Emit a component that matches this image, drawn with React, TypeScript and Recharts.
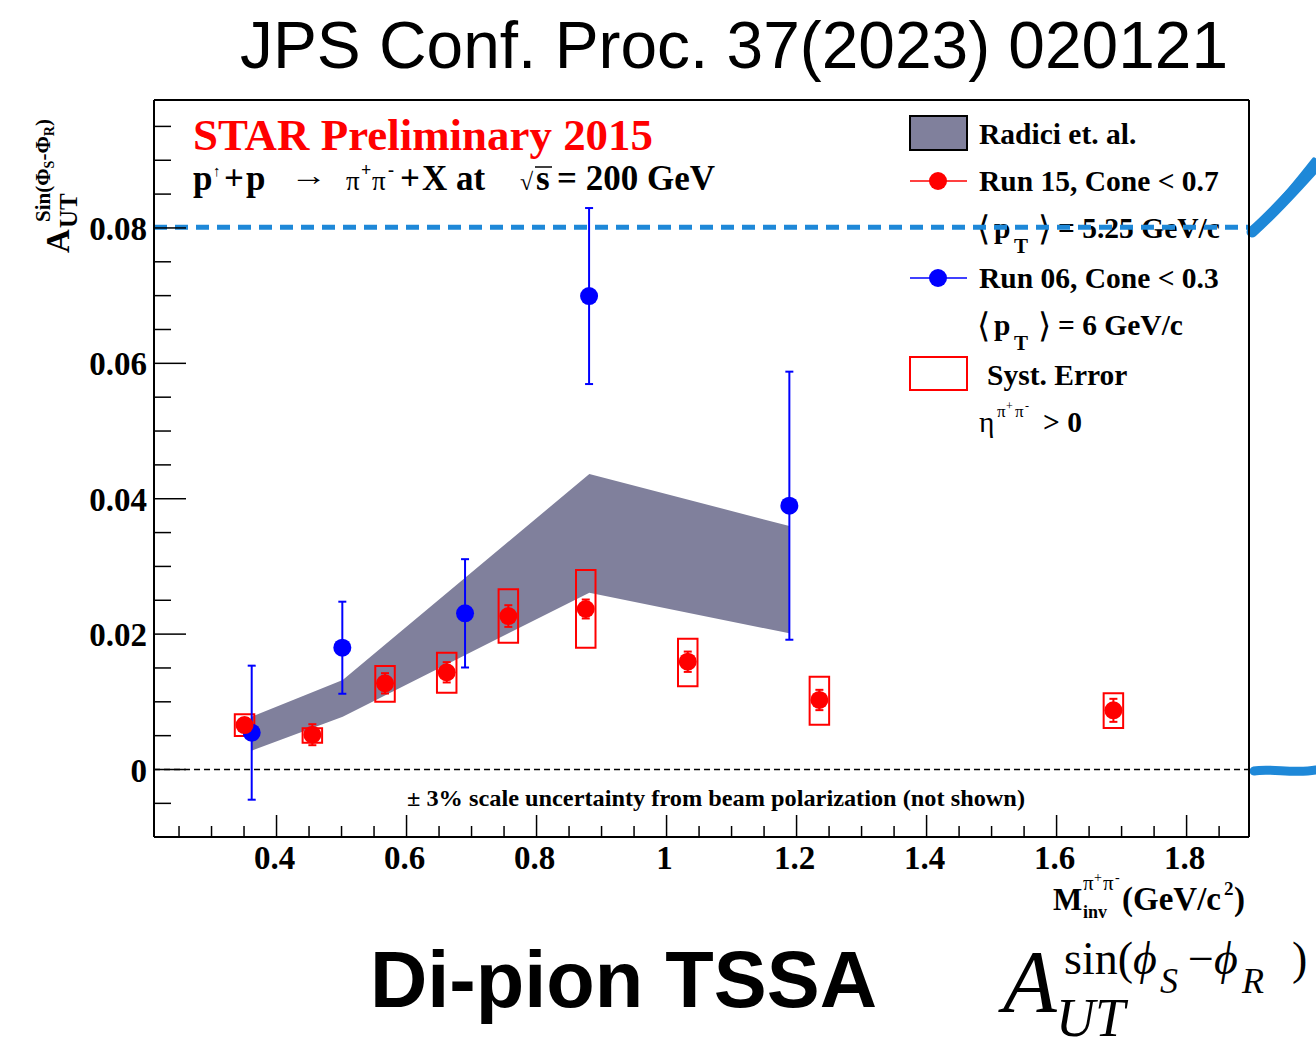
import React from 'react';
import {
  ComposedChart,
  Area,
  Scatter,
  XAxis,
  YAxis,
  ErrorBar,
  ReferenceLine,
  ReferenceArea,
} from 'recharts';

// ---- Radici et al. theory band ----
const bandMass = [0.3618, 0.5018, 0.8812, 1.1889];
const bandLow = [0.00278, 0.0078, 0.02612, 0.02012];
const bandHigh = [0.0078, 0.01322, 0.04365, 0.03597];

// ---- Run 15, Cone < 0.7 ----
const run15Mass = [0.3508, 0.4551, 0.5669, 0.6618, 0.7566, 0.8757, 1.0326, 1.2351, 1.6874];
const run15Asym = [0.00657, 0.00514, 0.01273, 0.01436, 0.02267, 0.02371, 0.01592, 0.01027, 0.00874];
const run15Stat = [0.001, 0.00155, 0.0015, 0.0015, 0.0016, 0.0014, 0.0015, 0.0015, 0.0017];
const run15SysLow = [0.00495, 0.00396, 0.01001, 0.01134, 0.01873, 0.01799, 0.01229, 0.00662, 0.00613];
const run15SysHigh = [0.00815, 0.00609, 0.01529, 0.01725, 0.02662, 0.02947, 0.01932, 0.01371, 0.01126];
const sysHalfWidth = 0.015;

// ---- Run 06, Cone < 0.3 ----
const run06Mass = [0.3618, 0.5012, 0.69, 0.8808, 1.1889];
const run06Asym = [0.00544, 0.01799, 0.02307, 0.06994, 0.03897];
const run06Err = [0.0099, 0.0068, 0.008, 0.013, 0.0198];

// ---- axes ----
const xDomain = [0.2115, 1.896];
const yDomain = [-0.00997, 0.0989];
const xTicks = [0.25, 0.3, 0.35, 0.4, 0.45, 0.5, 0.55, 0.6, 0.65, 0.7, 0.75, 0.8, 0.85, 0.9, 0.95, 1.0, 1.05, 1.1, 1.15, 1.2, 1.25, 1.3, 1.35, 1.4, 1.45, 1.5, 1.55, 1.6, 1.65, 1.7, 1.75, 1.8, 1.85];
const xMajorTicks = [0.4, 0.6, 0.8, 1.0, 1.2, 1.4, 1.6, 1.8];
const xMajorLabels = ['0.4', '0.6', '0.8', '1', '1.2', '1.4', '1.6', '1.8'];
const yTicks = [-0.005, 0, 0.005, 0.01, 0.015, 0.02, 0.025, 0.03, 0.035, 0.04, 0.045, 0.05, 0.055, 0.06, 0.065, 0.07, 0.075, 0.08, 0.085, 0.09, 0.095];
const yMajorTicks = [0, 0.02, 0.04, 0.06, 0.08];
const yMajorLabels = ['0', '0.02', '0.04', '0.06', '0.08'];

const bandData = bandMass.map((x, i) => ({ x, band: [bandLow[i], bandHigh[i]] }));
const run15Data = run15Mass.map((x, i) => ({ x, y: run15Asym[i], err: run15Stat[i] }));
const run06Data = run06Mass.map((x, i) => ({ x, y: run06Asym[i], err: run06Err[i] }));

const SERIF = "'Liberation Serif', 'Times New Roman', serif";
const SANS = "'Liberation Sans', Arial, sans-serif";
const RED = '#ff0000';
const BLUE = '#0000ff';
const BAND = '#80809c';
const ANNO = '#1e88d8';
const W = 1316;
const H = 1047;

const findIdx = (arr: number[], v: number) => arr.findIndex((a) => Math.abs(a - v) < 1e-6);

const XTick = (props: any) => {
  const { x, y, payload } = props;
  const idx = findIdx(xMajorTicks, payload.value);
  const major = idx >= 0;
  return (
    <g>
      <line x1={x} x2={x} y1={y} y2={y - (major ? 22 : 11)} stroke="#000" strokeWidth={1.5} />
      {major && (
        <text x={x - 2} y={y + 32} textAnchor="middle" fontFamily={SERIF} fontWeight="bold" fontSize={33} fill="#000">
          {xMajorLabels[idx]}
        </text>
      )}
    </g>
  );
};

const YTick = (props: any) => {
  const { x, y, payload } = props;
  const idx = findIdx(yMajorTicks, payload.value);
  const major = idx >= 0;
  return (
    <g>
      <line x1={x} x2={x + (major ? 32 : 17)} y1={y} y2={y} stroke="#000" strokeWidth={1.5} />
      {major && (
        <text x={x - 7} y={y + 12} textAnchor="end" fontFamily={SERIF} fontWeight="bold" fontSize={33} fill="#000">
          {yMajorLabels[idx]}
        </text>
      )}
    </g>
  );
};

const redDot = (p: any) => <circle cx={p.cx} cy={p.cy} r={9} fill={RED} />;
const blueDot = (p: any) => <circle cx={p.cx} cy={p.cy} r={9} fill={BLUE} />;

const Annotations = () => (
  <svg width={W} height={H} style={{ position: 'absolute', left: 0, top: 0 }}>
    {/* title */}
    <text x={240} y={68} fontFamily={SANS} fontSize={66} textLength={988} lengthAdjust="spacingAndGlyphs" fill="#000">
      JPS Conf. Proc. 37(2023) 020121
    </text>

    {/* STAR label */}
    <text x={193} y={150} fontFamily={SERIF} fontWeight="bold" fontSize={44} fill={RED} textLength={460} lengthAdjust="spacingAndGlyphs">
      STAR Preliminary 2015
    </text>
    <g fontFamily={SERIF} fontWeight="bold" fill="#000" fontSize={35}>
      <text x={193} y={190}>p</text>
      <text x={213} y={176} fontSize={15} fontWeight="normal">↑</text>
      <text x={224} y={190}>+</text>
      <text x={246} y={190}>p</text>
      <text x={290} y={185} fontSize={28} fontWeight="normal" textLength={37} lengthAdjust="spacingAndGlyphs">→</text>
      <text x={346} y={190} fontSize={27} fontWeight="normal">π</text>
      <text x={361} y={176} fontSize={18}>+</text>
      <text x={372} y={190} fontSize={27} fontWeight="normal">π</text>
      <text x={388} y={176} fontSize={18}>-</text>
      <text x={400} y={190}>+</text>
      <text x={422} y={190}>X at</text>
      <text x={520} y={190} fontSize={24} fontWeight="normal">√</text>
      <line x1={535} x2={552} y1={167} y2={167} stroke="#000" strokeWidth={1.5} />
      <text x={536} y={190}>s</text>
      <text x={557} y={190}>= 200 GeV</text>
    </g>

    {/* legend */}
    <g fontFamily={SERIF} fontWeight="bold" fill="#000" fontSize={29.5}>
      <rect x={910} y={116} width={57} height={34} fill={BAND} stroke="#000" strokeWidth={2} />
      <text x={979} y={144}>Radici et. al.</text>

      <line x1={910} x2={967} y1={181} y2={181} stroke={RED} strokeWidth={1.5} />
      <circle cx={938} cy={181} r={9} fill={RED} />
      <text x={979} y={191}>Run 15, Cone &lt; 0.7</text>

      <text x={977} y={240} fontSize={34} fontWeight="normal">⟨</text>
      <text x={994} y={238}>p</text>
      <text x={1014} y={253} fontSize={21}>T</text>
      <text x={1038} y={240} fontSize={34} fontWeight="normal">⟩</text>
      <text x={1058} y={238}>= 5.25 GeV/c</text>

      <line x1={910} x2={967} y1={278} y2={278} stroke={BLUE} strokeWidth={1.5} />
      <circle cx={938} cy={278} r={9} fill={BLUE} />
      <text x={979} y={288}>Run 06, Cone &lt; 0.3</text>

      <text x={977} y={337} fontSize={34} fontWeight="normal">⟨</text>
      <text x={994} y={335}>p</text>
      <text x={1014} y={350} fontSize={21}>T</text>
      <text x={1038} y={337} fontSize={34} fontWeight="normal">⟩</text>
      <text x={1058} y={335}>= 6 GeV/c</text>

      <rect x={910} y={357} width={57} height={33} fill="none" stroke={RED} strokeWidth={2} />
      <text x={987} y={385}>Syst. Error</text>

      <text x={979} y={432} fontWeight="normal">η</text>
      <text x={997} y={417} fontSize={17} fontWeight="normal">π</text>
      <text x={1006} y={410} fontSize={12} fontWeight="normal">+</text>
      <text x={1015} y={417} fontSize={17} fontWeight="normal">π</text>
      <text x={1025} y={410} fontSize={12} fontWeight="normal">-</text>
      <text x={1043} y={432}>&gt; 0</text>
    </g>

    {/* scale uncertainty note */}
    <text x={407} y={806} fontFamily={SERIF} fontWeight="bold" fontSize={23} textLength={618} lengthAdjust="spacingAndGlyphs" fill="#000">
      ± 3% scale uncertainty from beam polarization (not shown)
    </text>

    {/* y axis title */}
    <g transform="translate(69,253) rotate(-90)" fontFamily={SERIF} fontWeight="bold" fill="#000">
      <text x={0} y={0} fontSize={33}>A</text>
      <text x={25} y={8} fontSize={25}>UT</text>
      <text x={31} y={-19} fontSize={21}>
        Sin(Φ<tspan fontSize={14} dy={4}>S</tspan>
        <tspan dy={-4}>-Φ</tspan>
        <tspan fontSize={14} dy={4}>R</tspan>
        <tspan dy={-4}>)</tspan>
      </text>
    </g>

    {/* x axis title */}
    <g fontFamily={SERIF} fontWeight="bold" fill="#000">
      <text x={1053} y={910} fontSize={31}>M</text>
      <text x={1083} y={890} fontSize={21} fontWeight="normal">π</text>
      <text x={1094} y={882} fontSize={14} fontWeight="normal">+</text>
      <text x={1103} y={890} fontSize={21} fontWeight="normal">π</text>
      <text x={1115} y={882} fontSize={14} fontWeight="normal">-</text>
      <text x={1083} y={918} fontSize={18}>inv</text>
      <text x={1122} y={910} fontSize={33}>(GeV/c</text>
      <text x={1224} y={895} fontSize={19}>2</text>
      <text x={1234} y={910} fontSize={33}>)</text>
    </g>

    {/* big caption */}
    <text x={370} y={1007} fontFamily={SANS} fontWeight="bold" fontSize={80} textLength={507} lengthAdjust="spacingAndGlyphs" fill="#000">
      Di-pion TSSA
    </text>

    {/* formula */}
    <g fontFamily={SERIF} fill="#000">
      <text x={1003} y={1011} fontSize={88} fontStyle="italic">A</text>
      <text x={1056} y={1036} fontSize={54} fontStyle="italic">UT</text>
      <text x={1064} y={974} fontSize={46}>sin(</text>
      <text x={1133} y={974} fontSize={46} fontStyle="italic">ϕ</text>
      <text x={1160} y={993} fontSize={36} fontStyle="italic">S</text>
      <text x={1188} y={974} fontSize={46}>−</text>
      <text x={1214} y={974} fontSize={46} fontStyle="italic">ϕ</text>
      <text x={1242} y={993} fontSize={36} fontStyle="italic">R</text>
      <text x={1292} y={974} fontSize={46}>)</text>
    </g>

    {/* hand-drawn blue marks */}
    <g stroke={ANNO} fill="none" strokeLinecap="round">
      <path d="M1252,232 C1268,218 1290,195 1316,166" strokeWidth={11} />
      <path d="M1256,226 C1272,212 1292,188 1314,160" strokeWidth={5} />
      <path d="M1254,771 C1270,768 1295,774 1316,770" strokeWidth={9} />
    </g>
  </svg>
);

export default function App() {
  return (
    <div style={{ position: 'absolute', left: 0, top: 0, width: W, height: H, background: '#fff' }}>
      <Annotations />
      <div style={{ position: 'absolute', left: 0, top: 0 }}>
        <ComposedChart
          width={W}
          height={H}
          data={bandData}
          margin={{ top: 99, right: 66, bottom: 209, left: 153 }}
        >
          <XAxis
            type="number"
            dataKey="x"
            domain={xDomain}
            allowDataOverflow
            ticks={xTicks}
            interval={0}
            tick={(p: any) => <XTick {...p} />}
            tickLine={false}
            tickSize={0}
            tickMargin={0}
            height={1}
            axisLine={{ stroke: '#000', strokeWidth: 2 }}
          />
          <XAxis
            xAxisId="top"
            orientation="top"
            type="number"
            domain={xDomain}
            allowDataOverflow
            tick={false}
            tickLine={false}
            height={1}
            axisLine={{ stroke: '#000', strokeWidth: 2 }}
          />
          <YAxis
            type="number"
            domain={yDomain}
            allowDataOverflow
            ticks={yTicks}
            interval={0}
            tick={(p: any) => <YTick {...p} />}
            tickLine={false}
            tickSize={0}
            tickMargin={0}
            width={1}
            axisLine={{ stroke: '#000', strokeWidth: 2 }}
          />
          <YAxis
            yAxisId="right"
            orientation="right"
            type="number"
            domain={yDomain}
            allowDataOverflow
            tick={false}
            tickLine={false}
            width={1}
            axisLine={{ stroke: '#000', strokeWidth: 2 }}
          />
          <ReferenceLine y={0} stroke="#000" strokeWidth={1.3} strokeDasharray="6 4" />
          <Area
            type="linear"
            dataKey="band"
            stroke="none"
            fill={BAND}
            fillOpacity={1}
            isAnimationActive={false}
            dot={false}
            activeDot={false}
          />
          <Scatter data={run06Data} dataKey="y" shape={blueDot} isAnimationActive={false}>
            <ErrorBar dataKey="err" direction="y" width={4} stroke={BLUE} strokeWidth={2} />
          </Scatter>
          {run15Mass.map((m, i) => (
            <ReferenceArea
              key={i}
              x1={m - sysHalfWidth}
              x2={m + sysHalfWidth}
              y1={run15SysLow[i]}
              y2={run15SysHigh[i]}
              fill="none"
              fillOpacity={0}
              stroke={RED}
              strokeWidth={2}
              ifOverflow="visible"
            />
          ))}
          <Scatter data={run15Data} dataKey="y" shape={redDot} isAnimationActive={false}>
            <ErrorBar dataKey="err" direction="y" width={4} stroke={RED} strokeWidth={2} />
          </Scatter>
          <ReferenceLine y={0.0801} stroke={ANNO} strokeWidth={5} strokeDasharray="13 8" />
        </ComposedChart>
      </div>
    </div>
  );
}
